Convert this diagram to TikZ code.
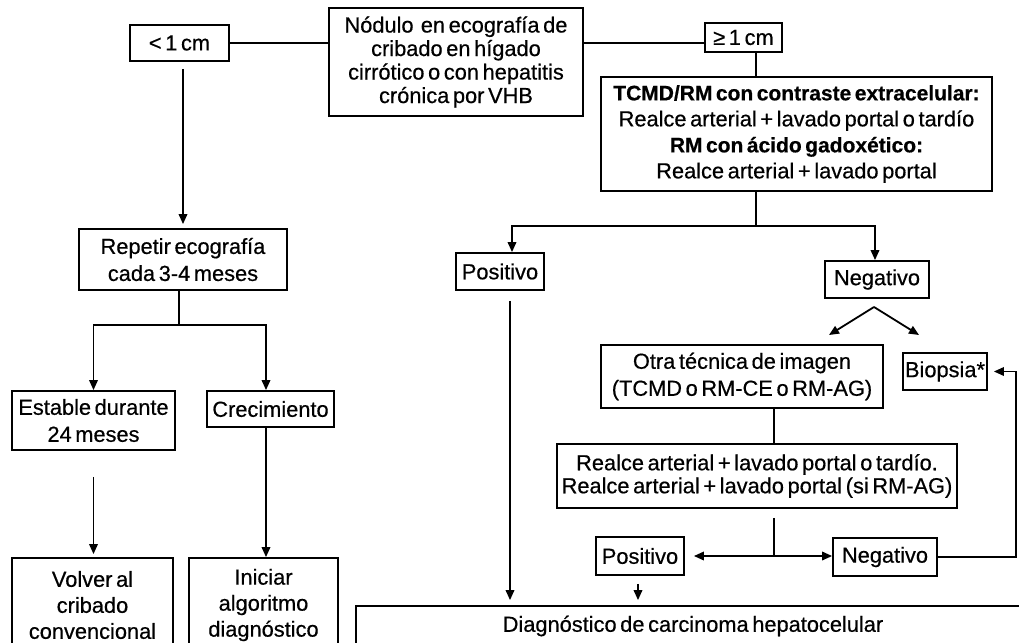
\documentclass[tikz,border=0pt]{standalone}
\usepackage{fontspec}
\setmainfont{Liberation Sans}[WordSpace=0.6, FakeBold=0.5]
\usetikzlibrary{arrows.meta}
\newcommand{\figfont}{\fontsize{21.8}{25}\selectfont}
\newcommand{\bfline}[1]{{\fontsize{21}{26}\selectfont\bfseries #1}}
\begin{document}
\begin{tikzpicture}[x=1pt,y=-1pt,
  box/.style 2 args={draw, line width=1.8pt, inner sep=0pt, align=center, font=\figfont,
    minimum width=#1, minimum height=#2},
  con/.style={line width=1.8pt},
  arr/.style={line width=1.8pt, -{Triangle[length=10pt,width=8.5pt]}}]
\fill[white] (0,0) rectangle (1019,642);
\useasboundingbox (0,0) rectangle (1019,642);
% nodes
\node[box={99pt}{36pt}] (lt1) at (179.5,43) {< 1 cm};
\node[box={254pt}{108pt}, font=\fontsize{21.8}{23.5}\selectfont] (nod) at (456,62) {Nódulo \ en ecografía de\\ cribado en hígado\\ cirrótico o con hepatitis\\ crónica por VHB};
\node[box={77pt}{29pt}] (ge1) at (743.5,37.5) {≥ 1 cm};
\node[box={391pt}{114pt}, font=\fontsize{21.8}{26}\selectfont] (tcmd) at (796.5,134) {\bfline{TCMD/RM con contraste extracelular:}\\ Realce arterial + lavado portal o tardío\\ \bfline{RM con ácido gadoxético:}\\ Realce arterial + lavado portal};
\node[box={88pt}{37pt}] (pos1) at (500,271.5) {Positivo};
\node[box={104pt}{37pt}] (neg1) at (877,279.5) {Negativo};
\node[box={282pt}{63pt}, font=\fontsize{21.8}{27}\selectfont] (otra) at (742,376.5) {Otra técnica de imagen\\ (TCMD o RM-CE o RM-AG)};
\node[box={84pt}{37pt}] (biop) at (945,371.5) {Biopsia*};
\node[box={400pt}{64pt}, font=\fontsize{21.8}{23}\selectfont] (realce) at (757,476) {Realce arterial + lavado portal o tardío.\\ Realce arterial + lavado portal (si RM-AG)};
\node[box={88pt}{38pt}] (pos2) at (640,556) {Positivo};
\node[box={104pt}{38pt}] (neg2) at (885,557) {Negativo};
\node[box={674pt}{40pt}] (diag) at (693,626) {Diagnóstico de carcinoma hepatocelular};
\node[box={208pt}{61pt}, font=\fontsize{21.8}{27}\selectfont] (rep) at (183,259.5) {Repetir ecografía\\ cada 3-4 meses};
\node[box={163pt}{59pt}, font=\fontsize{21.8}{27}\selectfont] (est) at (93.5,420.5) {Estable durante\\ 24 meses};
\node[box={127pt}{36pt}] (crec) at (270.5,409) {Crecimiento};
\node[box={161pt}{94pt}, font=\fontsize{21.8}{26}\selectfont] (volv) at (92.5,605) {Volver al\\ cribado\\ convencional};
\node[box={149pt}{94pt}, font=\fontsize{21.8}{26}\selectfont] (inic) at (263.5,605) {Iniciar\\ algoritmo\\ diagnóstico};
% helper coordinates
\coordinate (x756) at (756,0);
\coordinate (j1) at (756,226);
\coordinate (x512) at (512,0);
\coordinate (x875) at (875,0);
\coordinate (x510) at (510,0);
\coordinate (x638) at (638,0);
\coordinate (nb) at (874,307);
\coordinate (na) at (829,335);
\coordinate (nc) at (919,335);
\coordinate (x774) at (774,0);
\coordinate (j2) at (774,556);
\coordinate (r1) at (1016,557);
\coordinate (j3) at (179,325);
\coordinate (x266) at (266,0);
% connectors
\draw[con] (lt1.east) -- (lt1.east -| nod.west);
\draw[con] (nod.east |- lt1) -- (ge1.west |- lt1);
\draw[con] (ge1.south -| x756) -- (tcmd.north -| x756);
\draw[con] (tcmd.south -| x756) -- (j1);
\draw[arr] (j1) -| (pos1.north -| x512);
\draw[arr] (j1) -| (neg1.north -| x875);
\draw[arr, shorten <=10pt, shorten >=5pt] (pos1.south -| x510) -- (diag.north -| x510);
\draw[arr] (nb) -- (na);
\draw[arr] (nb) -- (nc);
\draw[con] (otra.south -| x774) -- (realce.north -| x774);
\draw[con, shorten <=9pt] (realce.south -| x774) -- (j2);
\draw[arr, shorten >=9pt] (j2) -- (pos2.east |- j2);
\draw[arr] (j2) -- (neg2.west |- j2);
\draw[arr, shorten <=8pt, shorten >=5pt] (pos2.south -| x638) -- (diag.north -| x638);
\draw[arr, shorten >=6pt] (neg2.east) -- (r1) |- (biop.east);
\draw[arr, shorten <=7pt, shorten >=4pt] (rep.north |- lt1.south) -- (rep.north);
\draw[con] (rep.south -| j3) -- (j3);
\draw[arr] (j3) -| (est.north);
\draw[arr] (j3) -| (crec.north -| x266);
\draw[arr] (crec.south -| x266) -- (inic.north -| x266);
\draw[arr, shorten <=26pt, shorten >=3pt] (est.south) -- (volv.north -| est.south);
\end{tikzpicture}
\end{document}
